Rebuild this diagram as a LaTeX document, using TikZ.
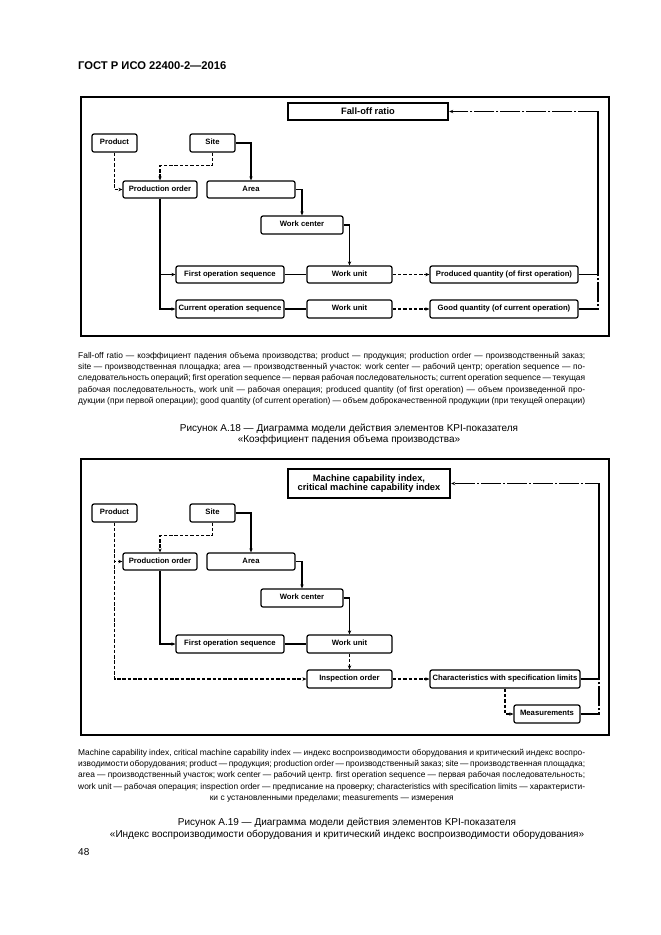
\documentclass[tikz,border=0pt]{standalone}
\usepackage{fontspec}
\setmainfont{Liberation Sans}
\usetikzlibrary{arrows.meta}
\tikzset{
  box/.style={draw, line width=1.2pt, rounded corners=2pt, inner sep=0pt, fill=white,
              text height=5.4pt, text depth=1.5pt,
              font=\fontsize{7.7}{8}\selectfont\bfseries},
  kpibox/.style={draw, line width=2.4pt, inner sep=0pt, fill=white, align=center,
              font=\fontsize{9.3}{9.8}\selectfont\bfseries},
  framebox/.style={draw, line width=1.2pt},
  conn/.style={line width=1.1pt},
  dconn/.style={line width=1.1pt, dash pattern=on 3.5pt off 1.8pt},
  ddconn/.style={line width=1.1pt, dash pattern=on 20pt off 2pt on 2pt off 2pt},
  arr/.style={-{Stealth[length=4pt,width=3.4pt]}},
  txt/.style={inner sep=0pt},
}
\newcommand{\bx}[7][box]{\node[#1,minimum width={#5-#3},minimum height={#6-#4}] (#2) at ({(#3+#5)/2},{(#4+#6)/2}) {#7};}
\newcommand{\capbox}[1]{\parbox{507pt}{\fontsize{8.4}{11.2}\selectfont\parindent=0pt\parfillskip=0pt
  \tolerance=10000\hyphenpenalty=10000\exhyphenpenalty=10000 #1}}
\begin{document}
\begin{tikzpicture}[x=1pt,y=-1pt]
\useasboundingbox (0,0) rectangle (661,935);
\fill[white] (0,0) rectangle (661,935);

\node[txt, anchor=west, font=\fontsize{11.2}{13}\selectfont\bfseries] (hdr) at (78,66) {ГОСТ Р ИСО 22400-2—2016};

%% ---------------- Diagram 1 ----------------
\draw[framebox] (81,97) rectangle (609,336);
\bx[kpibox]{kpiA}{288}{103}{448}{120}{Fall-off ratio}
\bx{prodA}{92}{134}{137}{152}{Product}
\bx{siteA}{190}{134}{235}{152}{Site}
\bx{poA}{123}{181}{197}{198}{Production order}
\bx{areaA}{207}{181}{295}{198}{Area}
\bx{wcA}{261}{216}{343}{234}{Work center}
\bx{fosA}{176}{266}{284}{283}{First operation sequence}
\bx{wuA}{307}{266}{392}{283}{Work unit}
\bx{pqA}{430}{266}{578}{283}{Produced quantity (of first operation)}
\bx{cosA}{176}{300}{284}{318}{Current operation sequence}
\bx{wuB}{307}{300}{392}{318}{Work unit}
\bx{gqA}{430}{300}{578}{318}{Good quantity (of current operation)}
\coordinate (rA) at (598,111.5);

\draw[dconn,arr] (prodA.south) |- (poA.west);
\draw[dconn,arr] (siteA.south) -- ++(0,13) -| (poA.north);
\draw[conn,arr] (siteA.east) -| (areaA.north);
\draw[conn,arr] (areaA.east) -| (wcA.north);
\draw[conn,arr] (wcA.east) -| (wuA.north);
\draw[conn,arr] (poA.south) |- (fosA.west);
\draw[conn,arr] (poA.south) |- (cosA.west);
\draw[conn] (fosA.east) -- (wuA.west);
\draw[conn] (cosA.east) -- (wuB.west);
\draw[dconn,arr] (wuA.east) -- (pqA.west);
\draw[dconn,arr] (wuB.east) -- (gqA.west);
\draw[ddconn] (gqA.east) -| (rA);
\draw[ddconn,arr] (pqA.east) -| (rA) -- (kpiA.east);

\node[txt, anchor=north west] (capA) at (78,352) {\capbox{%
Fall-off ratio — коэффициент падения объема производства; product — продукция; production order — производственный заказ;\linebreak
site — производственная площадка; area — производственный участок: work center — рабочий центр; operation sequence — по-\linebreak
следовательность операций; first operation sequence — первая рабочая последовательность; current operation sequence — текущая\linebreak
рабочая последовательность, work unit — рабочая операция; produced quantity (of first operation) — объем произведенной про-\linebreak
дукции (при первой операции); good quantity (of current operation) — объем доброкачественной продукции (при текущей операции)\par}};

\node[txt, align=center, font=\fontsize{10}{11}\selectfont] (titA) at (349,434)
  {Рисунок А.18 — Диаграмма модели действия элементов KPI-показателя\\«Коэффициент падения объема производства»};

%% ---------------- Diagram 2 ----------------
\draw[framebox] (81,459) rectangle (609,735);
\bx[kpibox]{kpiB}{288}{469}{450}{498}{Machine capability index,\\critical machine capability index}
\bx{prodB}{92}{504}{137}{522}{Product}
\bx{siteB}{190}{504}{235}{522}{Site}
\bx{poB}{123}{553}{197}{570}{Production order}
\bx{areaB}{207}{553}{295}{570}{Area}
\bx{wcB}{261}{589}{343}{607}{Work center}
\bx{fosB}{176}{635}{284}{653}{First operation sequence}
\bx{wuC}{307}{635}{392}{653}{Work unit}
\bx{ioB}{307}{670}{392}{688}{Inspection order}
\bx{chB}{430}{670}{580}{688}{Characteristics with specification limits}
\bx{msB}{514}{705}{580}{723}{Measurements}
\coordinate (rB) at (599,483.5);

\draw[dconn,arr] (prodB.south) |- (ioB.west);
\draw[dconn,arr] (prodB.south) |- (poB.west);
\draw[dconn,arr] (siteB.south) -- ++(0,13) -| (poB.north);
\draw[conn,arr] (siteB.east) -| (areaB.north);
\draw[conn,arr] (areaB.east) -| (wcB.north);
\draw[conn,arr] (wcB.east) -| (wuC.north);
\draw[conn,arr] (poB.south) |- (fosB.west);
\draw[conn] (fosB.east) -- (wuC.west);
\draw[dconn,arr] (wuC.south) -- (ioB.north);
\draw[dconn,arr] (ioB.east) -- (chB.west);
\draw[dconn,arr] (chB.south) |- (msB.west);
\draw[ddconn] (msB.east) -| (rB);
\draw[ddconn,arr] (chB.east) -| (rB) -- (kpiB.east);

\node[txt, anchor=north west] (capB) at (78,749) {\capbox{%
Machine capability index, critical machine capability index — индекс воспроизводимости оборудования и критический индекс воспро-\linebreak
изводимости оборудования; product — продукция; production order — производственный заказ; site — производственная площадка;\linebreak
area — производственный участок; work center — рабочий центр. first operation sequence — первая рабочая последовательность;\linebreak
work unit — рабочая операция; inspection order — предписание на проверку; characteristics with specification limits — характеристи-\par
{\centering ки с установленными пределами; measurements — измерения\par}}};

\node[txt, align=center, font=\fontsize{10}{11.5}\selectfont] (titB) at (347,829)
  {Рисунок А.19 — Диаграмма модели действия элементов KPI-показателя\\«Индекс воспроизводимости оборудования и критический индекс воспроизводимости оборудования»};

\node[txt, anchor=west, font=\fontsize{10}{12}\selectfont] (pg) at (78,852) {48};
\end{tikzpicture}
\end{document}
